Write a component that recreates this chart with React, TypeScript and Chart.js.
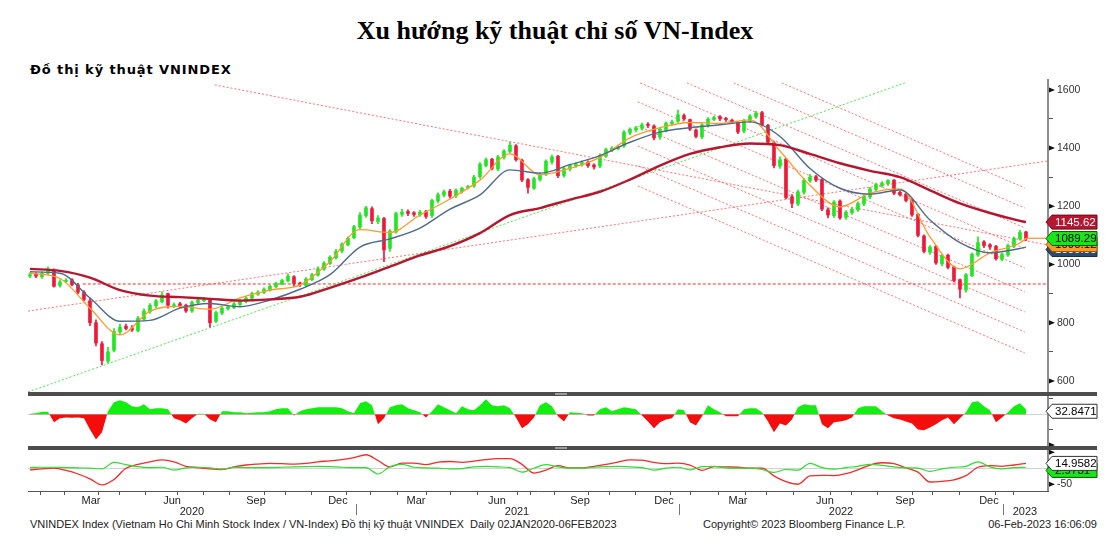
import React, { useEffect, useRef } from 'react';
import { Chart, registerables } from 'chart.js';
Chart.register(...registerables);

// ---- price candles (one sample per ~4.5 sessions) ----
const openP = [
  960, 968, 958, 970, 980, 928, 942, 948, 930, 905,
  875, 800, 728, 668, 705, 768, 788, 782, 772, 812,
  838, 858, 872, 900, 858, 865, 860, 840, 868, 876,
  878, 805, 833, 848, 852, 862, 873, 884, 898, 904,
  912, 924, 933, 944, 958, 936, 928, 948, 963, 984,
  1003, 1023, 1046, 1068, 1092, 1128, 1168, 1192, 1148, 1158,
  1055, 1112, 1172, 1182, 1178, 1170, 1182, 1168, 1218, 1238,
  1252, 1236, 1250, 1264, 1270, 1302, 1340, 1362, 1328, 1368,
  1388, 1408, 1358, 1292, 1262, 1292, 1310, 1352, 1372, 1306,
  1328, 1338, 1342, 1352, 1342, 1338, 1372, 1392, 1398, 1408,
  1452, 1462, 1468, 1482, 1476, 1438, 1462, 1484, 1492, 1512,
  1498, 1462, 1438, 1478, 1498, 1508, 1502, 1496, 1488, 1458,
  1492, 1508, 1522, 1478, 1418, 1338, 1362, 1232, 1208, 1248,
  1288, 1302, 1292, 1188, 1168, 1218, 1162, 1178, 1188, 1208,
  1232, 1258, 1272, 1278, 1290, 1248, 1242, 1222, 1172, 1098,
  1042, 1062, 1002, 1032, 992, 948, 912, 962, 1032, 1078,
  1068, 1062, 1018, 1032, 1062, 1088, 1112,
];
const highP = [
  972, 972, 975, 992, 985, 948, 952, 952, 935, 910,
  885, 810, 735, 715, 780, 795, 795, 790, 822, 848,
  866, 880, 906, 902, 868, 870, 864, 875, 883, 886,
  880, 840, 855, 860, 870, 880, 890, 905, 910, 920,
  930, 940, 950, 968, 962, 940, 955, 970, 992, 1010,
  1030, 1052, 1075, 1095, 1135, 1178, 1200, 1198, 1168, 1162,
  1120, 1180, 1190, 1188, 1182, 1186, 1186, 1225, 1246, 1256,
  1258, 1260, 1266, 1272, 1306, 1350, 1366, 1365, 1375, 1395,
  1421, 1412, 1362, 1295, 1300, 1316, 1360, 1376, 1375, 1336,
  1345, 1350, 1356, 1356, 1346, 1380, 1400, 1405, 1410, 1460,
  1470, 1475, 1486, 1488, 1480, 1470, 1490, 1496, 1531, 1518,
  1500, 1466, 1484, 1505, 1510, 1512, 1506, 1500, 1492, 1500,
  1515, 1526, 1526, 1482, 1422, 1370, 1365, 1240, 1256, 1295,
  1310, 1306, 1295, 1195, 1220, 1222, 1185, 1195, 1215, 1240,
  1265, 1280, 1285, 1292, 1292, 1252, 1246, 1225, 1176, 1102,
  1065, 1066, 1035, 1036, 995, 950, 970, 1040, 1095, 1082,
  1072, 1066, 1040, 1070, 1095, 1118, 1114,
];
const lowP = [
  955, 955, 952, 965, 922, 922, 938, 926, 900, 875,
  790, 720, 655, 662, 700, 760, 775, 770, 768, 808,
  832, 852, 868, 850, 852, 852, 835, 835, 862, 872,
  785, 800, 828, 843, 848, 858, 868, 880, 894, 900,
  908, 920, 930, 940, 925, 925, 924, 944, 960, 980,
  1000, 1018, 1040, 1064, 1088, 1122, 1162, 1140, 1140, 1010,
  1045, 1108, 1165, 1168, 1165, 1165, 1158, 1162, 1212, 1232,
  1228, 1230, 1245, 1260, 1265, 1296, 1335, 1325, 1322, 1362,
  1384, 1355, 1285, 1245, 1258, 1286, 1305, 1345, 1298, 1300,
  1322, 1334, 1338, 1334, 1328, 1333, 1368, 1388, 1394, 1402,
  1446, 1456, 1462, 1470, 1428, 1430, 1456, 1478, 1488, 1495,
  1460, 1435, 1432, 1472, 1494, 1494, 1492, 1484, 1450, 1452,
  1488, 1502, 1475, 1415, 1332, 1330, 1225, 1195, 1202, 1242,
  1282, 1285, 1185, 1160, 1162, 1155, 1155, 1172, 1182, 1202,
  1226, 1252, 1266, 1272, 1240, 1235, 1215, 1165, 1095, 1040,
  1035, 1000, 995, 985, 940, 885, 905, 958, 1028, 1058,
  1052, 1015, 1012, 1028, 1058, 1084, 1082,
];
const closeP = [
  965, 960, 970, 985, 925, 940, 945, 930, 905, 880,
  800, 730, 670, 700, 770, 785, 780, 775, 815, 840,
  860, 875, 895, 860, 862, 858, 840, 870, 878, 880,
  800, 835, 850, 855, 865, 875, 885, 900, 905, 915,
  925, 935, 945, 960, 935, 930, 950, 965, 985, 1005,
  1025, 1045, 1070, 1090, 1130, 1170, 1195, 1150, 1160, 1050,
  1115, 1175, 1180, 1175, 1172, 1180, 1165, 1220, 1240, 1250,
  1235, 1255, 1262, 1268, 1300, 1345, 1360, 1330, 1370, 1390,
  1410, 1360, 1290, 1265, 1295, 1310, 1355, 1370, 1305, 1330,
  1340, 1345, 1350, 1340, 1335, 1375, 1395, 1400, 1405, 1455,
  1465, 1470, 1480, 1478, 1435, 1465, 1485, 1490, 1515, 1500,
  1465, 1440, 1480, 1500, 1505, 1500, 1498, 1490, 1455, 1495,
  1510, 1520, 1480, 1420, 1340, 1360, 1230, 1210, 1250, 1290,
  1300, 1290, 1190, 1170, 1215, 1160, 1180, 1190, 1210, 1235,
  1260, 1275, 1280, 1288, 1245, 1240, 1220, 1170, 1100, 1045,
  1060, 1005, 1030, 990, 945, 915, 965, 1035, 1075, 1065,
  1060, 1020, 1035, 1065, 1090, 1110, 1089.29,
];

// ---- moving averages, read every 5 samples (last one at the final sample) ----
const maIdx = [0, 5, 10, 15, 20, 25, 30, 35, 40, 45, 50, 55, 60, 65, 70, 75, 80, 85, 90, 95, 100, 105, 110, 115, 120, 125, 130, 135, 140, 145, 150, 155, 160, 165, 166];
const ma20 = [970, 952, 850, 758, 840, 856, 846, 885, 912, 930, 1010, 1120, 1110, 1170, 1225, 1290, 1380, 1308, 1330, 1368, 1435, 1470, 1488, 1485, 1497, 1390, 1272, 1198, 1245, 1260, 1095, 985, 1040, 1074, 1090.12];
const ma50 = [975, 970, 885, 805, 808, 850, 866, 855, 878, 915, 965, 1060, 1088, 1125, 1190, 1239, 1325, 1314, 1343, 1374, 1420, 1455, 1470, 1480, 1490, 1440, 1330, 1262, 1242, 1256, 1153, 1075, 1040, 1055, 1059.55];
const ma200 = [985, 978, 955, 912, 893, 888, 882, 876, 880, 889, 920, 955, 993, 1031, 1063, 1108, 1170, 1194, 1223, 1250, 1292, 1340, 1380, 1403, 1416, 1410, 1380, 1348, 1322, 1300, 1255, 1210, 1177, 1150, 1145.62];

// ---- histogram panel (one per sample) ----
const histVals = [
  3, 7, 16, 16, -52, -26, -20, -23, -20, -26,
  -98, -163, -117, 20, 78, 91, 78, 52, 46, 65,
  33, 39, 39, 33, -26, -39, -59, -26, 3, 3,
  -33, -52, 20, 20, 13, 13, 7, 10, 13, 13,
  20, 33, 39, 39, -7, 20, 33, 39, 46, 46,
  46, 46, 39, 20, 7, 72, 85, 59, -65, -26,
  46, 59, 65, 39, 26, 13, -20, 20, 65, 46,
  26, 7, 52, 33, 26, 59, 98, 59, 52, 59,
  39, -20, -91, -65, -20, 59, 78, 52, -13, -46,
  13, 10, 7, -7, -7, 33, 46, 20, 33, 46,
  39, 33, -7, -46, -91, -52, -33, -26, 33, 26,
  -52, -72, -13, 59, 33, 13, -13, -13, -13, 33,
  39, 39, 13, -46, -117, -59, -72, -33, 46, 65,
  59, 59, -65, -91, -52, -46, -39, -20, 39, 52,
  52, 52, 20, -7, -26, -33, -46, -59, -98, -104,
  -85, -65, -39, -20, -65, -26, 13, 78, 85, 52,
  26, -52, -20, 13, 52, 72, 32.8471,
];

// ---- oscillator panel, read every 2 samples ----
const oscRed = [
  -5, -2, 0, -7, -18, -33, -52, -35, 0, 12,
  20, 26, 20, 6, 2, -2, -4, 4, 10, 13,
  15, 14, 13, 15, 20, 23, 27, 33, 42, 24,
  4, 16, 16, 11, 19, 21, 18, 22, 27, 30,
  30, 12, -15, -6, 8, 1, 1, 6, 12, 19,
  26, 25, 18, 14, 16, 10, -7, 5, 4, 3,
  0, 0, -24, -42, -50, -24, -22, -23, -17, -5,
  10, 17, 14, 1, -12, -43, -41, -36, -23, 3,
  8, 6, 10, 14.9582,
];
const oscGreen = [
  2, 3, 3, 2, 1, 0, -2, 18, 11, 5,
  2, 3, -6, 1, 3, 1, -3, 3, 2, 2,
  2, 3, 4, 5, 6, 5, 3, 2, 2, -18,
  5, 12, 3, 1, 0, -2, -1, 4, 6, 4,
  2, -12, 0, 11, 4, 0, 0, 3, 5, 6,
  4, 2, -6, 0, 3, -5, 5, 6, 1, 0,
  0, -4, -13, -4, -6, 15, 2, -3, 2, 6,
  12, 9, 4, 1, 0, -10, -2, 3, 6, 20,
  4, -2, 2, 2.9731,
];

// ---- trend lines drawn on the price panel (sample index, index value) ----
const trendLines = [
  { x0: 30.8, y0: 1617, x1: 169.67, y1: 1067, kind: 'red' },
  { x0: -0.33, y0: 840, x1: 169.67, y1: 1356, kind: 'red' },
  { x0: -0.33, y0: 562, x1: 145.8, y1: 1624, kind: 'green' },
  { x0: 8.8, y0: 933, x1: 169.67, y1: 933, kind: 'level' },
  { x0: 125.3, y0: 1624, x1: 165.8, y1: 1263, kind: 'red' },
  { x0: 117.3, y0: 1624, x1: 165.8, y1: 1194, kind: 'red' },
  { x0: 109.5, y0: 1624, x1: 165.8, y1: 1126, kind: 'red' },
  { x0: 101.7, y0: 1624, x1: 165.8, y1: 1055, kind: 'red' },
  { x0: 101.3, y0: 1559, x1: 165.8, y1: 988, kind: 'red' },
  { x0: 101.3, y0: 1476, x1: 165.8, y1: 906, kind: 'red' },
  { x0: 101.3, y0: 1407, x1: 165.8, y1: 837, kind: 'red' },
  { x0: 101.3, y0: 1339, x1: 165.8, y1: 768, kind: 'red' },
  { x0: 101.3, y0: 1270, x1: 165.8, y1: 696, kind: 'red' },
];

// ---- axes ----
const priceTicks = [600, 700, 800, 900, 1000, 1100, 1200, 1300, 1400, 1500, 1600];
const priceMajor = [600, 800, 1000, 1200, 1400, 1600];
const histTicks = [-200, -100, 0, 100];
const histMajor = [-200];
const oscTicks = [-50, 0, 50];
const oscMajor = [-50, 50];
const oscLabelled = [-50];
const monthTickIdx = [-0.33, 3.67, 7.83, 12.67, 17.17, 21.33, 25.5, 30.83, 35.67, 40.5, 44.67, 49.17, 54.33, 59.33, 63.17, 68, 72.17, 77, 81.5, 85.33, 89.67, 94.5, 98.67, 103.33, 108, 112.33, 117.17, 120.5, 125, 129.67, 134.5, 138.67, 143.83, 148.33, 152.5, 157.33, 162.17, 165.67];
const monthLabels = ['Mar', 'Jun', 'Sep', 'Dec', 'Mar', 'Jun', 'Sep', 'Dec', 'Mar', 'Jun', 'Sep', 'Dec'];
const monthLabelIdx = [10.17, 23.67, 37.67, 51.33, 64.33, 77.83, 91.67, 105.67, 118, 132.5, 145.83, 159.83];
const yearLabels = ['2020', '2021', '2022', '2023'];
const yearLabelIdx = [27, 81.17, 135.17, 165.83];
const yearDividerIdx = [54.33, 108.17, 162.17];
const X_MIN = -0.33;
const X_MAX = 169.67;

const FONT = 'Liberation Sans';

function tag(ctx: CanvasRenderingContext2D, xl: number, y: number, text: string, bg: string, fg: string, border: string) {
  const xr = 1097, h = 14, tip = 6;
  ctx.beginPath();
  ctx.moveTo(xl, y);
  ctx.lineTo(xl + tip, y - h / 2);
  ctx.lineTo(xr, y - h / 2);
  ctx.lineTo(xr, y + h / 2);
  ctx.lineTo(xl + tip, y + h / 2);
  ctx.closePath();
  ctx.fillStyle = bg;
  ctx.fill();
  ctx.lineWidth = 1;
  ctx.strokeStyle = border;
  ctx.stroke();
  ctx.fillStyle = fg;
  ctx.font = `11.5px "${FONT}"`;
  ctx.textAlign = 'left';
  ctx.textBaseline = 'middle';
  ctx.fillText(text, xl + tip + 3, y + 0.5);
}

const overlay = {
  id: 'overlay',
  afterDraw(chart: any) {
    const ctx: CanvasRenderingContext2D = chart.ctx;
    const { left } = chart.chartArea;
    const x = chart.scales.x, y = chart.scales.y, y2 = chart.scales.y2, y3 = chart.scales.y3;
    ctx.save();
    // triangles for major ticks
    ctx.fillStyle = '#111';
    const tri = (s: any, v: number) => {
      const py = s.getPixelForValue(v);
      ctx.beginPath();
      ctx.moveTo(s.left + 1, py - 2.5);
      ctx.lineTo(s.left + 7, py);
      ctx.lineTo(s.left + 1, py + 2.5);
      ctx.closePath();
      ctx.fill();
    };
    priceMajor.forEach(v => tri(y, v));
    histMajor.forEach(v => tri(y2, v));
    oscMajor.forEach(v => tri(y3, v));
    // panel separators
    ctx.fillStyle = '#4d4d4d';
    [y2.top, y3.top].forEach((t: number) => ctx.fillRect(left, t - 2, 1097 - left, 4));
    ctx.fillStyle = '#9a9a9a';
    [y2.top, y3.top].forEach((t: number) => ctx.fillRect(555, t - 1, 12, 2));
    // year dividers
    ctx.strokeStyle = '#777';
    ctx.lineWidth = 1;
    yearDividerIdx.forEach(v => {
      const px = Math.round(x.getPixelForValue(v)) + 0.5;
      ctx.beginPath();
      ctx.moveTo(px, x.bottom - 12);
      ctx.lineTo(px, x.bottom - 1);
      ctx.stroke();
    });
    // value tags
    const xl = chart.chartArea.right - 2;
    const last = closeP.length - 1;
    const gY = y.getPixelForValue(closeP[last]);
    const bY = Math.max(y.getPixelForValue(ma50[ma50.length - 1]), gY + 11);
    tag(ctx, xl, bY, ma50[ma50.length - 1].toFixed(2), '#2c4a6b', '#fff', '#1b2d44');
    tag(ctx, xl, gY + 6, ma20[ma20.length - 1].toFixed(2), '#ff9a2a', '#000', '#a05a00');
    tag(ctx, xl, gY, closeP[last].toFixed(2), '#19e619', '#000', '#0a5a0a');
    tag(ctx, xl, y.getPixelForValue(ma200[ma200.length - 1]), ma200[ma200.length - 1].toFixed(2), '#b4172f', '#fff', '#6a0a18');
    const hv = histVals[histVals.length - 1];
    tag(ctx, xl, y2.getPixelForValue(hv) + 2, hv.toFixed(4), '#fff', '#000', '#333');
    const rv = oscRed[oscRed.length - 1];
    const gv = oscGreen[oscGreen.length - 1];
    const rY = y3.getPixelForValue(rv);
    tag(ctx, xl, Math.max(y3.getPixelForValue(gv), rY + 7), gv.toFixed(4), '#19e619', '#000', '#0a5a0a');
    tag(ctx, xl, rY, rv.toFixed(4), '#fff', '#000', '#333');
    ctx.restore();
  },
};

function yAxis(min: number, max: number, tickVals: number[], major: number[], labelled: number[], weight: number, zeroLine: boolean) {
  return {
    type: 'linear',
    position: 'right',
    stack: 'panels',
    stackWeight: weight,
    min,
    max,
    offset: false,
    afterBuildTicks: (s: any) => { s.ticks = tickVals.map(v => ({ value: v })); },
    afterFit: (s: any) => { s.width = 62; s.paddingTop = 0; s.paddingBottom = 0; },
    border: { display: true, color: '#8c8c8c', width: 2 },
    grid: {
      drawOnChartArea: zeroLine,
      drawTicks: true,
      tickLength: 5,
      color: (c: any) => (zeroLine && c.tick && c.tick.value === 0 ? '#d2d2d2' : 'rgba(0,0,0,0)'),
      lineWidth: 1,
      tickColor: (c: any) => (c.tick && !major.includes(c.tick.value) ? '#555' : 'rgba(0,0,0,0)'),
      tickWidth: 1,
    },
    ticks: {
      autoSkip: false,
      padding: 4,
      color: '#333',
      font: { family: FONT, size: 10.5 },
      callback: (v: number) => (labelled.includes(v) ? String(v) : ''),
    },
  };
}

export default function App() {
  const ref = useRef<HTMLCanvasElement>(null);
  useEffect(() => {
    const canvas = ref.current;
    if (!canvas) return;
    const up = closeP.map((c, i) => c >= openP[i]);
    const candleCol = up.map(u => (u ? '#22e622' : '#ee1838'));

    const xTicks = [
      ...monthTickIdx.map(v => ({ value: v, lbl: '' as any, mark: true })),
      ...monthLabelIdx.map((v, k) => ({ value: v, lbl: monthLabels[k] as any, mark: false })),
      ...yearLabelIdx.map((v, k) => ({ value: v, lbl: ['', yearLabels[k]] as any, mark: false })),
    ].sort((a, b) => a.value - b.value);

    const trendSets = trendLines.map(t => ({
      type: 'line',
      data: [{ x: t.x0, y: t.y0 }, { x: t.x1, y: t.y1 }],
      borderColor: t.kind === 'green' ? 'rgba(70,225,70,0.95)' : t.kind === 'level' ? '#ff2a2a' : 'rgba(255,80,80,0.8)',
      borderWidth: 1,
      borderDash: t.kind === 'level' ? [3, 2] : [2, 2],
      pointRadius: 0,
      yAxisID: 'y',
      order: 4,
    }));

    const maLine = (vals: number[], color: string, width: number) => ({
      type: 'line',
      data: vals.map((v, k) => ({ x: maIdx[k], y: v })),
      borderColor: color,
      borderWidth: width,
      pointRadius: 0,
      cubicInterpolationMode: 'monotone',
      yAxisID: 'y',
      order: 0,
    });

    const chart = new Chart(canvas, {
      type: 'line',
      data: {
        datasets: [
          maLine(ma200, '#b4172f', 2.4),
          maLine(ma50, '#4e6b8c', 1.4),
          maLine(ma20, '#ff9a2e', 1.3),
          {
            type: 'line',
            data: [{ x: maIdx[maIdx.length - 1], y: ma20[ma20.length - 1] }, { x: X_MAX, y: ma20[ma20.length - 1] }],
            borderColor: '#ff9a2e',
            borderWidth: 1.3,
            pointRadius: 0,
            yAxisID: 'y',
            order: 0,
          },
          {
            type: 'bar',
            data: closeP.map((c, i) => ({ x: i, y: [openP[i], c] })),
            backgroundColor: candleCol,
            barThickness: 3,
            minBarLength: 1,
            grouped: false,
            yAxisID: 'y',
            order: 1,
          },
          {
            type: 'bar',
            data: closeP.map((c, i) => ({ x: i, y: [lowP[i], highP[i]] })),
            backgroundColor: candleCol,
            barThickness: 1,
            grouped: false,
            yAxisID: 'y',
            order: 2,
          },
          ...trendSets,
          {
            type: 'line',
            data: histVals.map((v, i) => ({ x: i, y: v })),
            borderColor: 'rgba(0,0,0,0)',
            borderWidth: 0,
            pointRadius: 0,
            fill: { target: { value: 0 }, above: '#11ee11', below: '#f40d0d' },
            yAxisID: 'y2',
            order: 5,
          },
          {
            type: 'line',
            data: oscGreen.map((v, j) => ({ x: j * 2, y: v })),
            borderColor: '#2fdc2f',
            borderWidth: 1.2,
            pointRadius: 0,
            cubicInterpolationMode: 'monotone',
            yAxisID: 'y3',
            order: 6,
          },
          {
            type: 'line',
            data: oscRed.map((v, j) => ({ x: j * 2, y: v })),
            borderColor: '#f52a2a',
            borderWidth: 1.3,
            pointRadius: 0,
            cubicInterpolationMode: 'monotone',
            yAxisID: 'y3',
            order: 6,
          },
        ] as any,
      },
      options: {
        animation: false,
        responsive: false,
        devicePixelRatio: 1,
        layout: { padding: { left: 28, top: 4, right: 0, bottom: 0 } },
        plugins: { legend: { display: false }, tooltip: { enabled: false } },
        events: [],
        scales: {
          y: yAxis(555, 1634, priceTicks, priceMajor, priceMajor, 314, false),
          y2: yAxis(-219, 132, histTicks, histMajor, [], 54, true),
          y3: yAxis(-71, 63, oscTicks, oscMajor, oscLabelled, 43, true),
          x: {
            type: 'linear',
            min: X_MIN,
            max: X_MAX,
            offset: false,
            afterBuildTicks: (s: any) => { s.ticks = xTicks.map(t => ({ ...t })); },
            afterFit: (s: any) => { s.height = 25; s.paddingLeft = 0; s.paddingRight = 0; },
            border: { display: true, color: '#555', width: 1 },
            grid: {
              drawOnChartArea: false,
              drawTicks: true,
              tickLength: 4,
              tickColor: (c: any) => (c.tick && c.tick.mark ? '#555' : 'rgba(0,0,0,0)'),
            },
            ticks: {
              autoSkip: false,
              maxRotation: 0,
              minRotation: 0,
              padding: 0,
              color: '#222',
              font: { family: FONT, size: 11, lineHeight: 1.05 },
              callback: (_v: any, i: number, ticks: any[]) => ticks[i].lbl,
            },
          },
        } as any,
      },
      plugins: [overlay],
    } as any);
    return () => chart.destroy();
  }, []);

  return (
    <div style={{ position: 'fixed', left: 0, top: 0, width: 1110, height: 537, background: '#fff', overflow: 'hidden' }}>
      <div style={{ position: 'absolute', top: 16, left: 0, width: 1110, textAlign: 'center', font: 'bold 26px "Liberation Serif"', lineHeight: '30px', color: '#000' }}>
        Xu hướng kỹ thuật chỉ số VN-Index
      </div>
      <div style={{ position: 'absolute', top: 62, left: 30, font: 'bold 13px "DejaVu Sans"', letterSpacing: '0.9px', lineHeight: '16px', color: '#000', whiteSpace: 'nowrap' }}>
        Đồ thị kỹ thuật VNINDEX
      </div>
      <canvas ref={ref} width={1110} height={440} style={{ position: 'absolute', left: 0, top: 76, width: 1110, height: 440 }} />
      <div style={{ position: 'absolute', top: 518, left: 30, font: `11px "${FONT}"`, lineHeight: '13px', color: '#222', whiteSpace: 'pre' }}>
        {'VNINDEX Index (Vietnam Ho Chi Minh Stock Index / VN-Index) Đồ thị kỹ thuật VNINDEX  Daily 02JAN2020-06FEB2023'}
      </div>
      <div style={{ position: 'absolute', top: 518, left: 703, font: `11px "${FONT}"`, lineHeight: '13px', color: '#222', whiteSpace: 'pre' }}>
        {'Copyright© 2023 Bloomberg Finance L.P.'}
      </div>
      <div style={{ position: 'absolute', top: 518, right: 13, font: `11px "${FONT}"`, lineHeight: '13px', color: '#222', whiteSpace: 'pre' }}>
        {'06-Feb-2023 16:06:09'}
      </div>
    </div>
  );
}
